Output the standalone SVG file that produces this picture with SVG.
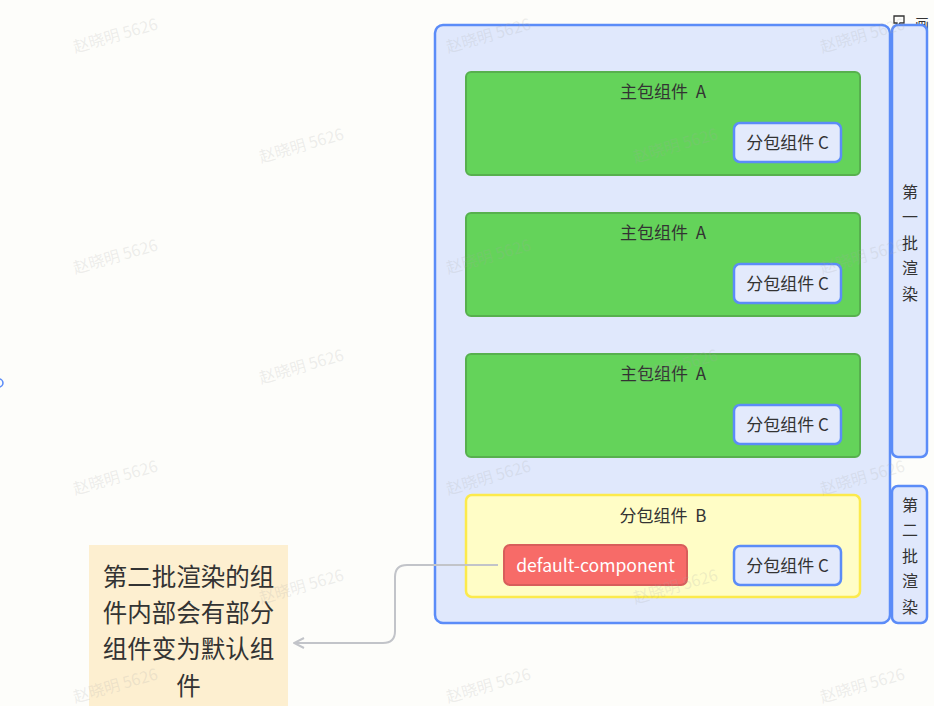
<svg xmlns="http://www.w3.org/2000/svg" width="934" height="706" viewBox="0 0 934 706">
<defs>
<style>
.t{font-family:"Noto Sans CJK SC","Liberation Sans",sans-serif;fill:#333;}
.outer{fill:#e0e8fc;stroke:#5b8cf8;stroke-width:2.5;}
.green{fill:#64d35a;stroke:#57b04e;stroke-width:2;}
.cbox{fill:#e3eafc;stroke:#5b8cf8;stroke-width:2.5;}
.wm{font-family:"Noto Sans CJK SC","Liberation Sans",sans-serif;font-size:16px;fill:#a8a8a8;fill-opacity:0.2;}
.conn{fill:none;stroke:#c2c4c9;stroke-width:2;}
</style>
<marker id="arr" viewBox="0 0 12 12" refX="11" refY="6" markerWidth="12" markerHeight="12" markerUnits="userSpaceOnUse" orient="auto">
<path d="M1,1 L11,6 L1,11" fill="none" stroke="#c2c4c9" stroke-width="2"/>
</marker>
</defs>
<rect width="934" height="706" fill="#fdfdfa"/>
<circle cx="-1" cy="383" r="4" fill="none" stroke="#5b8cf8" stroke-width="1.5"/>

<g id="toolbar">
<path d="M894,16 h10 v7 h-4 l-3,4 v-4 h-3 z" fill="none" stroke="#333" stroke-width="1.3"/>
<text class="t" x="915" y="29" font-size="14">画</text>
</g>

<g id="container">
<rect class="outer" x="435" y="25" width="455" height="598" rx="8"/>
</g>

<g id="batch1">
<rect class="outer" x="892" y="25" width="35" height="432" rx="6"/>
<g class="t" font-size="16" text-anchor="middle">
<text x="910" y="198">第</text>
<text x="910" y="223">一</text>
<text x="910" y="249">批</text>
<text x="910" y="274">渲</text>
<text x="910" y="300">染</text>
</g>
</g>

<g id="batch2">
<rect class="outer" x="892" y="486" width="35" height="137" rx="6"/>
<g class="t" font-size="16" text-anchor="middle">
<text x="910" y="511">第</text>
<text x="910" y="536">二</text>
<text x="910" y="562">批</text>
<text x="910" y="587">渲</text>
<text x="910" y="613">染</text>
</g>
</g>

<g id="mainA1">
<rect class="green" x="466" y="72" width="394" height="103" rx="5"/>
<text class="t" x="663" y="98" font-size="17" text-anchor="middle" xml:space="preserve">主包组件  A</text>
</g>
<g id="subC1">
<rect class="cbox" x="734" y="123" width="107" height="39" rx="6"/>
<text class="t" x="787.5" y="149" font-size="17" text-anchor="middle">分包组件 C</text>
</g>

<g id="mainA2">
<rect class="green" x="466" y="213" width="394" height="103" rx="5"/>
<text class="t" x="663" y="239" font-size="17" text-anchor="middle" xml:space="preserve">主包组件  A</text>
</g>
<g id="subC2">
<rect class="cbox" x="734" y="264" width="107" height="39" rx="6"/>
<text class="t" x="787.5" y="290" font-size="17" text-anchor="middle">分包组件 C</text>
</g>

<g id="mainA3">
<rect class="green" x="466" y="354" width="394" height="103" rx="5"/>
<text class="t" x="663" y="380" font-size="17" text-anchor="middle" xml:space="preserve">主包组件  A</text>
</g>
<g id="subC3">
<rect class="cbox" x="734" y="405" width="107" height="39" rx="6"/>
<text class="t" x="787.5" y="431" font-size="17" text-anchor="middle">分包组件 C</text>
</g>

<g id="subB">
<rect x="466" y="495" width="394" height="102" rx="6" fill="#fffdc6" stroke="#fcea4c" stroke-width="2.5"/>
<text class="t" x="663" y="522" font-size="17" text-anchor="middle" xml:space="preserve">分包组件  B</text>
</g>
<g id="default">
<rect x="504" y="545" width="183" height="40" rx="6" fill="#f76b68" stroke="#d85e5b" stroke-width="2"/>
<text class="t" x="595.5" y="572" font-size="17.6" text-anchor="middle" style="fill:#fff">default-component</text>
</g>
<g id="subC4">
<rect class="cbox" x="734" y="546" width="107" height="39" rx="6"/>
<text class="t" x="787.5" y="572" font-size="17" text-anchor="middle">分包组件 C</text>
</g>

<g id="note">
<rect x="89" y="545" width="199" height="165" fill="#fdefd0"/>
<g class="t" font-size="24.5" text-anchor="middle">
<text x="188.5" y="586">第二批渲染的组</text>
<text x="188.5" y="622">件内部会有部分</text>
<text x="188.5" y="658">组件变为默认组</text>
<text x="188.5" y="695">件</text>
</g>
</g>

<g id="connectors">
<path class="conn" d="M498,565 H407 Q395,565 395,577 V631 Q395,643 383,643 H294" marker-end="url(#arr)"/>
</g>

<g id="watermarks">
<text class="wm" transform="translate(75,53) rotate(-16)">赵晓明 5626</text>
<text class="wm" transform="translate(448,53) rotate(-16)">赵晓明 5626</text>
<text class="wm" transform="translate(822,53) rotate(-16)">赵晓明 5626</text>
<text class="wm" transform="translate(261,163) rotate(-16)">赵晓明 5626</text>
<text class="wm" transform="translate(635,163) rotate(-16)">赵晓明 5626</text>
<text class="wm" transform="translate(75,274) rotate(-16)">赵晓明 5626</text>
<text class="wm" transform="translate(448,274) rotate(-16)">赵晓明 5626</text>
<text class="wm" transform="translate(822,274) rotate(-16)">赵晓明 5626</text>
<text class="wm" transform="translate(261,384) rotate(-16)">赵晓明 5626</text>
<text class="wm" transform="translate(635,384) rotate(-16)">赵晓明 5626</text>
<text class="wm" transform="translate(75,495) rotate(-16)">赵晓明 5626</text>
<text class="wm" transform="translate(448,495) rotate(-16)">赵晓明 5626</text>
<text class="wm" transform="translate(822,495) rotate(-16)">赵晓明 5626</text>
<text class="wm" transform="translate(261,604) rotate(-16)">赵晓明 5626</text>
<text class="wm" transform="translate(635,604) rotate(-16)">赵晓明 5626</text>
<text class="wm" transform="translate(75,703) rotate(-16)">赵晓明 5626</text>
<text class="wm" transform="translate(448,703) rotate(-16)">赵晓明 5626</text>
<text class="wm" transform="translate(822,703) rotate(-16)">赵晓明 5626</text>
</g>
</svg>
